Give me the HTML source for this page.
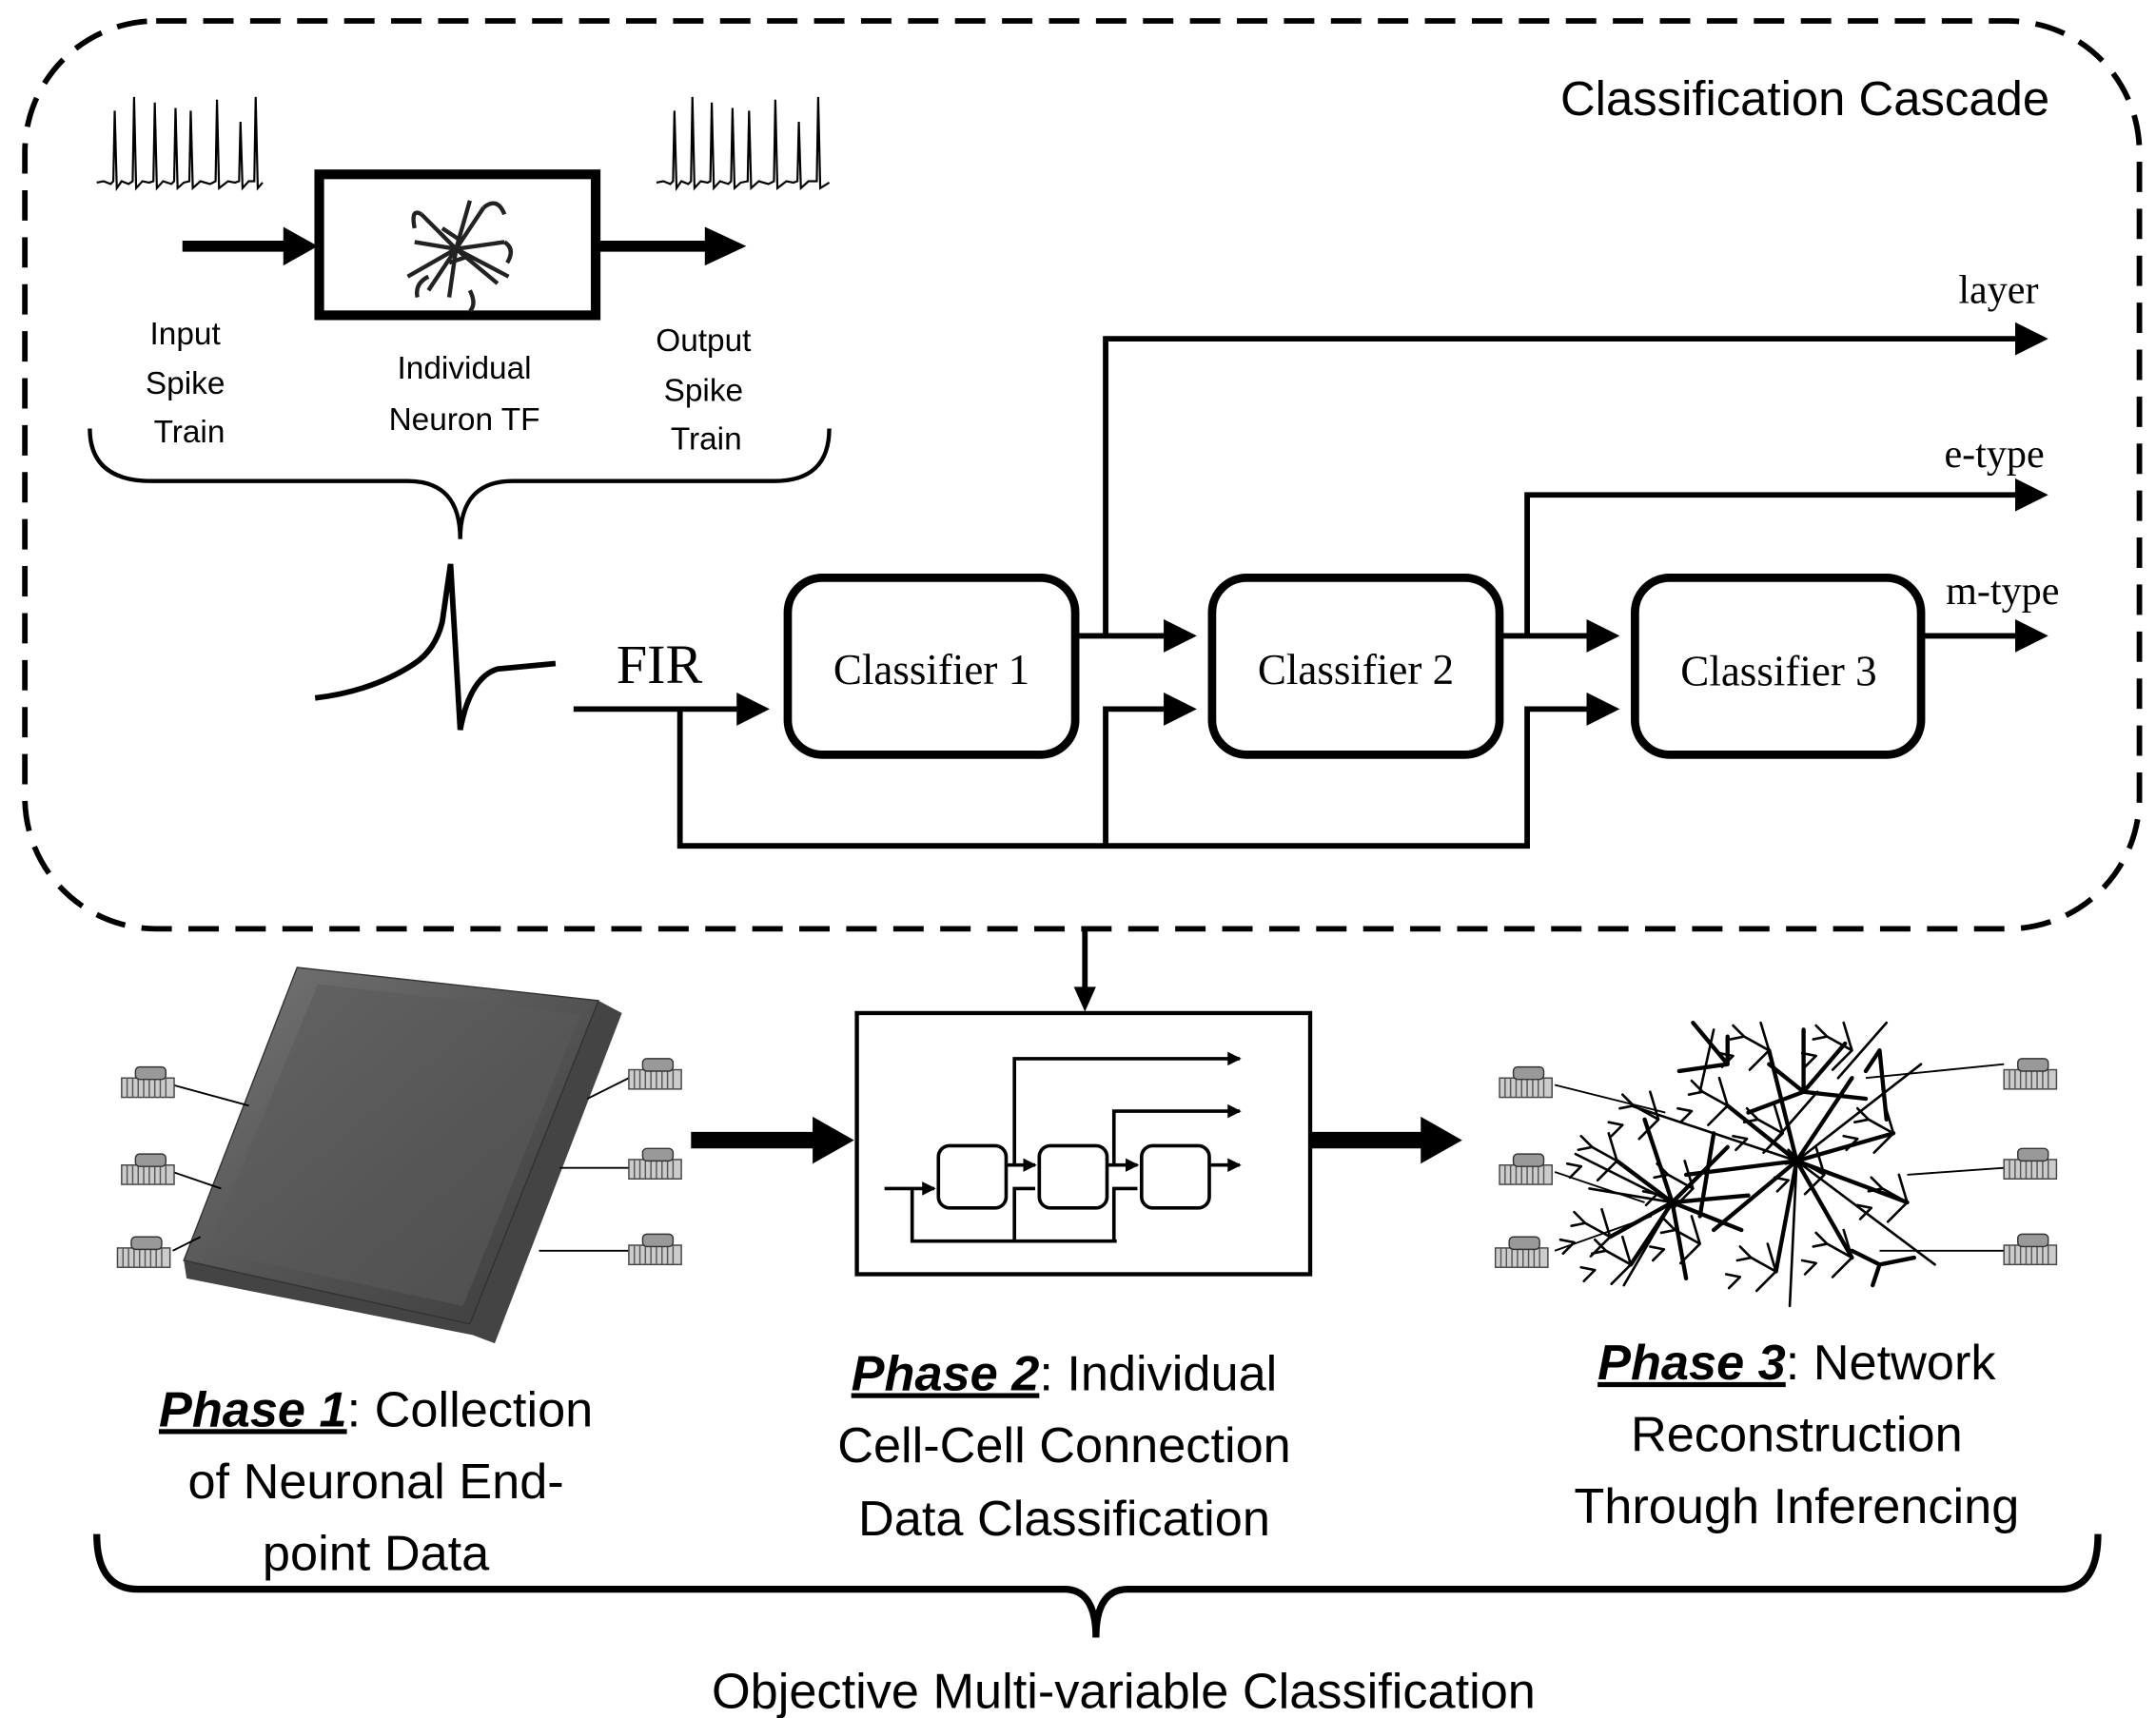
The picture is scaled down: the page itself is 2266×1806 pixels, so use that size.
<!DOCTYPE html>
<html><head><meta charset="utf-8"><style>html,body{margin:0;padding:0;background:#fff}svg{display:block}</style></head>
<body>
<svg width="2266" height="1806" viewBox="0 0 1560 1243" xmlns="http://www.w3.org/2000/svg">
<defs>
<marker id="ah" markerWidth="6" markerHeight="6" refX="5" refY="3" orient="auto" markerUnits="strokeWidth"><path d="M0,0 L6,3 L0,6 z" fill="#000"/></marker>
<marker id="ah2" markerWidth="4" markerHeight="4" refX="3.5" refY="2" orient="auto" markerUnits="strokeWidth"><path d="M0,0 L4,2 L0,4 z" fill="#000"/></marker>
<linearGradient id="tg" x1="0" y1="0" x2="1" y2="1"><stop offset="0" stop-color="#777"/><stop offset="0.5" stop-color="#555"/><stop offset="1" stop-color="#3a3a3a"/></linearGradient>
<g id="chip"><rect x="0" y="8" width="38" height="14" fill="#ccc" stroke="#444" stroke-width="1"/><path d="M4,8 v14 M8,8 v14 M12,8 v14 M16,8 v14 M20,8 v14 M24,8 v14 M28,8 v14 M32,8 v14" stroke="#555" stroke-width="1"/><rect x="10" y="0" width="22" height="9" rx="3" fill="#999" stroke="#333"/></g>
<g id="br"><path d="M0,0 l-18,-10 m18,10 l-14,14 m14,-14 l-6,-20 m-12,10 l-8,-8 m8,8 l-10,2 m2,12 l-8,8 m8,-8 l-10,-2 m10,-40"/></g>
</defs>
<rect x="18" y="15" width="1530" height="657" rx="95" fill="none" stroke="#000" stroke-width="4" stroke-dasharray="22 12"/>
<g font-family="Liberation Sans, sans-serif" fill="#000">
<text x="1483" y="83" font-size="35" text-anchor="end">Classification Cascade</text>
<g font-size="23" text-anchor="middle">
<text x="134" y="249">Input</text><text x="134" y="285">Spike</text><text x="137" y="320">Train</text>
<text x="336" y="274">Individual</text><text x="336" y="311">Neuron TF</text>
<text x="509" y="254">Output</text><text x="509" y="290">Spike</text><text x="511" y="325">Train</text>
</g>
</g>
<!-- spike trains -->
<g fill="none" stroke="#000" stroke-width="1.5">
<path d="M70,132 L75,131 L80,133 L82,131 L83,80 L84.5,136 L88,131 L93,133 L96,131 L97,70 L98.5,136 L103,131 L108,132 L111,131 L112,74 L113.5,136 L118,131 L124,133 L126,131 L127,78 L128.5,136 L133,132 L137,131 L138,80 L139.5,136 L145,131 L152,133 L156,131 L157,72 L158.5,136 L165,131 L170,132 L173,131 L174,88 L175.5,136 L180,131 L184,131 L185,70 L186.5,136 L190,132"/>
<path d="M475,132 L480,131 L485,133 L487,131 L488,80 L489.5,136 L493,131 L498,133 L500,131 L501,70 L502.5,136 L507,131 L512,132 L514,131 L515,74 L516.5,136 L521,131 L527,133 L529,131 L530,78 L531.5,136 L536,132 L541,131 L542,80 L543.5,136 L549,131 L556,133 L560,131 L561,72 L562.5,136 L569,131 L574,132 L577,131 L578,88 L579.5,136 L585,131 L591,131 L592,70 L593.5,136 L600,132"/>
</g>
<line x1="132" y1="178" x2="210" y2="178" stroke="#000" stroke-width="8"/>
<path d="M205,164 L230,178 L205,192 z"/>
<rect x="231" y="126" width="200" height="102" fill="none" stroke="#000" stroke-width="7"/>
<line x1="433" y1="178" x2="515" y2="178" stroke="#000" stroke-width="8"/>
<path d="M510,164 L540,178 L510,192 z"/>
<!-- neuron blob -->
<g fill="none" stroke="#222" stroke-width="3">
<path d="M330,180 l-25,-25 m25,25 l20,-30 m-20,30 l35,-5 m-35,5 l30,25 m-30,-25 l-5,35 m5,-35 l-35,20 m35,-20 l-30,-5 m30,5 l10,-35 m-10,35 l-20,30 m20,-30 l38,20"/>
<path d="M305,155 q-8,-5 -5,10 M350,150 q10,-8 15,5 M365,175 q8,5 2,15 M310,200 q-10,5 -8,15 M340,210 q5,10 0,15 M320,165 l15,10 M325,190 l15,-5"/>
</g>
<!-- brace -->
<path d="M65,310 Q65,348 110,348 L295,348 Q333,348 333,390 Q333,348 371,348 L560,348 Q600,348 600,310" fill="none" stroke="#000" stroke-width="3"/>
<!-- FIR waveform -->
<path d="M228,505 Q270,500 300,480 Q315,470 320,450 L326,408 L333,528 Q340,490 360,484 L402,480" fill="none" stroke="#000" stroke-width="4"/>
<text x="446" y="494" font-family="Liberation Serif, serif" font-size="40">FIR</text>
<!-- cascade -->
<g stroke="#000" stroke-width="4" fill="none">
<path d="M415,513 H553" marker-end="url(#ah)"/>
<path d="M778,460 H862" marker-end="url(#ah)"/>
<path d="M1085,460 H1168" marker-end="url(#ah)"/>
<path d="M1390,460 H1478" marker-end="url(#ah)"/>
<path d="M800,460 V245 H1478" marker-end="url(#ah)"/>
<path d="M1105,460 V358 H1478" marker-end="url(#ah)"/>
<path d="M492,513 V612 H1107"/>
<path d="M800,612 V513 H862" marker-end="url(#ah)"/>
<path d="M1105,612 V513 H1168" marker-end="url(#ah)"/>
</g>
<g stroke="#000" stroke-width="6" fill="#fff">
<rect x="570" y="418" width="208" height="128" rx="25"/>
<rect x="877" y="418" width="208" height="128" rx="25"/>
<rect x="1183" y="418" width="207" height="128" rx="25"/>
</g>
<g font-family="Liberation Serif, serif" font-size="31" text-anchor="middle">
<text x="674" y="495">Classifier 1</text><text x="981" y="495">Classifier 2</text><text x="1287" y="496">Classifier 3</text>
<text x="1446" y="219" font-size="29">layer</text><text x="1443" y="338" font-size="29">e-type</text><text x="1449" y="437" font-size="29">m-type</text>
</g>
<!-- down arrow -->
<path d="M785,672 V718" stroke="#000" stroke-width="4"/><path d="M777,714 L785,732 L793,714 z"/>
<!-- small box -->
<rect x="620" y="733" width="328" height="189" fill="none" stroke="#000" stroke-width="3"/>
<g stroke="#000" stroke-width="2.5" fill="none">
<rect x="679" y="829" width="49" height="45" rx="8"/><rect x="752" y="829" width="49" height="45" rx="8"/><rect x="826" y="829" width="49" height="45" rx="8"/>
<path d="M640,860 H676" marker-end="url(#ah2)"/>
<path d="M728,843 H749" marker-end="url(#ah2)"/><path d="M801,843 H823" marker-end="url(#ah2)"/><path d="M875,843 H897" marker-end="url(#ah2)"/>
<path d="M734,843 V766 H897" marker-end="url(#ah2)"/>
<path d="M806,843 V804 H897" marker-end="url(#ah2)"/>
<path d="M660,860 V898 H808 M734,898 V860 H749 M806,898 V860 H823" />
</g>
<!-- big arrows -->
<path d="M500,825 H595" stroke="#000" stroke-width="12"/><path d="M588,808 L618,825 L588,842 z"/>
<path d="M948,825 H1035" stroke="#000" stroke-width="12"/><path d="M1028,808 L1058,825 L1028,842 z"/>
<!-- tablet -->
<path d="M215,700 L433,724 L450,733 L358,972 L342,966 L135,925 L133,912 z" fill="#444"/>
<path d="M215,700 L433,724 L340,958 L133,912 z" fill="url(#tg)" stroke="#333"/>
<path d="M230,712 L420,734 L335,945 L150,905 z" fill="#5a5a5a" opacity="0.6"/>
<!-- chips -->
<g stroke="#000" stroke-width="1.3">
<line x1="125" y1="785" x2="180" y2="800"/><line x1="125" y1="848" x2="160" y2="860"/><line x1="125" y1="905" x2="145" y2="895"/>
<line x1="455" y1="780" x2="425" y2="795"/><line x1="455" y1="845" x2="405" y2="845"/><line x1="455" y1="905" x2="390" y2="905"/>
<line x1="1125" y1="785" x2="1205" y2="805"/><line x1="1125" y1="848" x2="1190" y2="870"/><line x1="1125" y1="905" x2="1195" y2="880"/>
<line x1="1450" y1="770" x2="1350" y2="780"/><line x1="1450" y1="845" x2="1380" y2="850"/><line x1="1450" y1="905" x2="1360" y2="905"/>
</g>
<use href="#chip" x="88" y="772"/><use href="#chip" x="88" y="835"/><use href="#chip" x="85" y="895"/>
<use href="#chip" x="455" y="766"/><use href="#chip" x="455" y="831"/><use href="#chip" x="455" y="893"/>
<use href="#chip" x="1085" y="772"/><use href="#chip" x="1085" y="835"/><use href="#chip" x="1082" y="895"/>
<use href="#chip" x="1450" y="766"/><use href="#chip" x="1450" y="831"/><use href="#chip" x="1450" y="893"/>
<!-- neuron drawing -->
<g fill="none" stroke="#000" stroke-width="3" stroke-linecap="round">
<path d="M1210,870 l-40,-30 m40,30 l-45,25 m45,-25 l-30,45 m30,-45 l10,55 m-10,-55 l40,-40 m-40,40 l50,20 m-50,-20 l-20,-60 m20,60 l55,-5"/>
<path d="M1300,840 l-50,-40 m50,40 l-20,-80 m20,80 l40,-60 m-40,60 l70,-20 m-70,20 l80,30 m-80,-30 l40,70 m-40,-70 l-15,80 m15,-80 l-60,50 m60,-50 l-80,10"/>
<path d="M1305,790 l0,-45 m0,45 l-25,-20 m25,20 l30,-35 m-30,35 l-40,15 m40,-15 l45,5"/>
<path d="M1360,915 l-20,-10 m20,10 l25,-5 m-25,5 l-5,15"/>
<path d="M1360,760 l5,50 m-5,-50 l-10,15"/>
<path d="M1250,770 l-25,-30 m25,30 l-35,5 m35,-5 l0,-20 M1240,820 l-10,60"/>
</g>
<g fill="none" stroke="#000" stroke-width="1.8" stroke-linecap="round">
<use href="#br" x="1170" y="840"/><use href="#br" x="1165" y="895"/><use href="#br" x="1180" y="915"/>
<use href="#br" x="1250" y="800"/><use href="#br" x="1280" y="760"/><use href="#br" x="1340" y="760"/>
<use href="#br" x="1370" y="820"/><use href="#br" x="1380" y="870"/><use href="#br" x="1340" y="910"/>
<use href="#br" x="1285" y="920"/><use href="#br" x="1230" y="900"/><use href="#br" x="1200" y="810"/>
<use href="#br" x="1320" y="850"/><use href="#br" x="1290" y="820"/><use href="#br" x="1225" y="860"/>
<path d="M1210,870 l-60,-10 m60,10 l-35,60 m35,-60 l-70,-35 m140,-5 l35,-40 M1300,840 l90,-70 m-90,70 l100,75 m-100,-75 l-120,-40 m120,40 l-5,105 M1230,790 l10,-45 M1330,780 l35,-40"/>
</g>
<!-- phase texts -->
<g font-family="Liberation Sans, sans-serif" font-size="36" text-anchor="middle">
<text x="272" y="1032"><tspan font-weight="bold" font-style="italic" text-decoration="underline">Phase 1</tspan>: Collection</text>
<text x="272" y="1084">of Neuronal End-</text>
<text x="272" y="1136">point Data</text>
<text x="770" y="1006"><tspan font-weight="bold" font-style="italic" text-decoration="underline">Phase 2</tspan>: Individual</text>
<text x="770" y="1058">Cell-Cell Connection</text>
<text x="770" y="1111">Data Classification</text>
<text x="1300" y="998"><tspan font-weight="bold" font-style="italic" text-decoration="underline">Phase 3</tspan>: Network</text>
<text x="1300" y="1050">Reconstruction</text>
<text x="1300" y="1102">Through Inferencing</text>
<text x="813" y="1236">Objective Multi-variable Classification</text>
</g>
<!-- bottom brace -->
<path d="M70,1110 Q70,1150 100,1150 L770,1150 Q793,1150 793,1185 Q793,1150 816,1150 L1490,1150 Q1518,1150 1518,1110" fill="none" stroke="#000" stroke-width="5"/>
</svg>
</body></html>
